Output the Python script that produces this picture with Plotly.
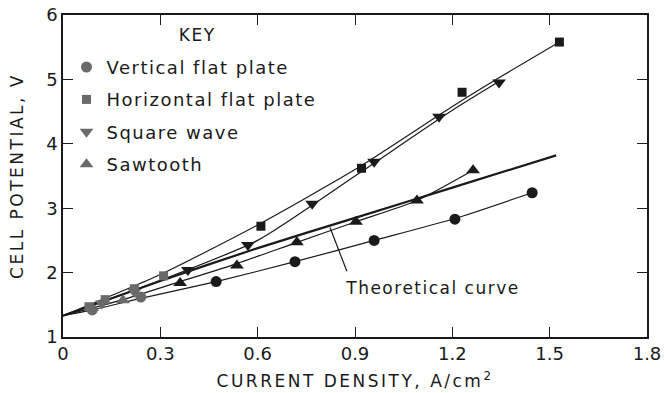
import plotly.graph_objects as go

# ---- data ----
vert_x = [0.09, 0.24, 0.472, 0.715, 0.959, 1.208, 1.446]
vert_y = [1.42, 1.62, 1.86, 2.17, 2.50, 2.83, 3.24]

horiz_x = [0.08, 0.13, 0.22, 0.31, 0.61, 0.92, 1.23, 1.53]
horiz_y = [1.47, 1.58, 1.75, 1.95, 2.72, 3.62, 4.80, 5.58]

sq_x = [0.12, 0.22, 0.385, 0.57, 0.768, 0.959, 1.159, 1.344]
sq_y = [1.52, 1.70, 2.04, 2.43, 3.07, 3.72, 4.42, 4.95]

saw_x = [0.09, 0.185, 0.361, 0.536, 0.721, 0.903, 1.091, 1.264]
saw_y = [1.45, 1.57, 1.84, 2.11, 2.47, 2.79, 3.12, 3.59]

# fitted curves as drawn on the figure
vert_fit_x = [0.0, 0.09, 0.24, 0.472, 0.715, 0.959, 1.208, 1.446]
vert_fit_y = [1.33, 1.42, 1.60, 1.86, 2.17, 2.50, 2.84, 3.24]
horiz_fit_x = [0.0, 0.3, 0.6, 0.9, 1.2, 1.345, 1.53]
horiz_fit_y = [1.33, 1.97, 2.74, 3.60, 4.58, 5.03, 5.58]
sq_fit_x = [0.0, 0.3, 0.6, 0.9, 1.2, 1.345]
sq_fit_y = [1.33, 1.88, 2.50, 3.50, 4.52, 4.97]
saw_fit_x = [0.0, 0.185, 0.361, 0.536, 0.721, 0.903, 1.091, 1.264]
saw_fit_y = [1.33, 1.58, 1.86, 2.14, 2.47, 2.79, 3.12, 3.59]
theo_x = [0.0, 0.3, 0.6, 0.9, 1.2, 1.52]
theo_y = [1.33, 1.87, 2.38, 2.85, 3.32, 3.82]

x_ticks = [0, 0.3, 0.6, 0.9, 1.2, 1.5, 1.8]
x_tick_text = ["0", "0.3", "0.6", "0.9", "1.2", "1.5", "1.8"]
y_ticks = [1, 2, 3, 4, 5, 6]
y_tick_text = ["1", "2", "3", "4", "5", "6"]

FONT = "DejaVu Sans"
INK = "#1a1a1a"


def colors(xs):
    return ["#6a6a6a" if v < 0.33 else INK for v in xs]


fig = go.Figure()

# curves
for fx, fy, w in [(vert_fit_x, vert_fit_y, 1.2), (horiz_fit_x, horiz_fit_y, 1.2),
                  (sq_fit_x, sq_fit_y, 1.2), (saw_fit_x, saw_fit_y, 1.2),
                  (theo_x, theo_y, 2.2)]:
    fig.add_trace(go.Scatter(x=fx, y=fy, mode="lines", showlegend=False,
                             line=dict(color=INK, width=w, shape="spline", smoothing=0.6),
                             hoverinfo="skip"))

series = [
    ("Vertical flat plate", vert_x, vert_y, "circle", 11),
    ("Horizontal flat plate", horiz_x, horiz_y, "square", 9),
    ("Square wave", sq_x, sq_y, "triangle-down", 12),
    ("Sawtooth", saw_x, saw_y, "triangle-up", 12),
]
for i, (name, xs, ys, sym, sz) in enumerate(series):
    fig.add_trace(go.Scatter(x=xs, y=ys, mode="markers", name=name,
                             legendgroup=f"g{i}",
                             marker=dict(symbol=sym, size=sz, color=colors(xs),
                                         line=dict(width=0))))

axis_common = dict(showline=True, linecolor=INK, linewidth=1.5, mirror="ticks",
                   ticks="inside", ticklen=10, tickwidth=1.3, tickcolor=INK,
                   showgrid=False, zeroline=False, automargin=False,
                   tickfont=dict(family=FONT, size=18, color=INK))

fig.update_layout(
    width=664, height=393,
    margin=dict(l=63, r=17, t=15, b=56),
    paper_bgcolor="white", plot_bgcolor="white",
    font=dict(family=FONT, color=INK),
    xaxis=dict(range=[0, 1.8], tickvals=x_ticks, ticktext=x_tick_text,
               title=dict(text="CURRENT DENSITY, A/cm<sup>2</sup>",
                          font=dict(family=FONT, size=17, color=INK), standoff=12),
               **axis_common),
    yaxis=dict(range=[1, 6], tickvals=y_ticks, ticktext=y_tick_text,
               title=dict(text="CELL POTENTIAL, V",
                          font=dict(family=FONT, size=17, color=INK), standoff=18),
               **axis_common),
    legend=dict(x=0.006, y=0.895, xanchor="left", yanchor="top",
                bgcolor="rgba(0,0,0,0)", traceorder="grouped", tracegroupgap=6,
                font=dict(family=FONT, size=18, color=INK)),
    showlegend=True,
)

fig.add_annotation(x=0.231, y=0.938, xref="paper", yref="paper", text="KEY",
                   xanchor="center", yanchor="middle",
                   showarrow=False, font=dict(family=FONT, size=17, color=INK))
fig.add_annotation(x=1.138, y=1.76, xref="x", yref="y", text="Theoretical curve",
                   xanchor="center", yanchor="middle",
                   showarrow=False, font=dict(family=FONT, size=17, color=INK))
fig.add_shape(type="line", xref="x", yref="y", x0=0.875, y0=2.02, x1=0.823, y1=2.70,
              line=dict(color=INK, width=1.2))

css = ("body{margin:0}"
       ".legendtext{letter-spacing:1.5px}"
       ".legend .scrollbox{clip-path:none !important}"
       ".xtitle,.ytitle{letter-spacing:2.5px}"
       ".annotation-text{letter-spacing:1.5px}")
post = ("var s=document.createElement('style');s.innerHTML='" + css +
        "';document.head.appendChild(s);")

fig.write_html("out.html", post_script=post, config={"displayModeBar": False})
